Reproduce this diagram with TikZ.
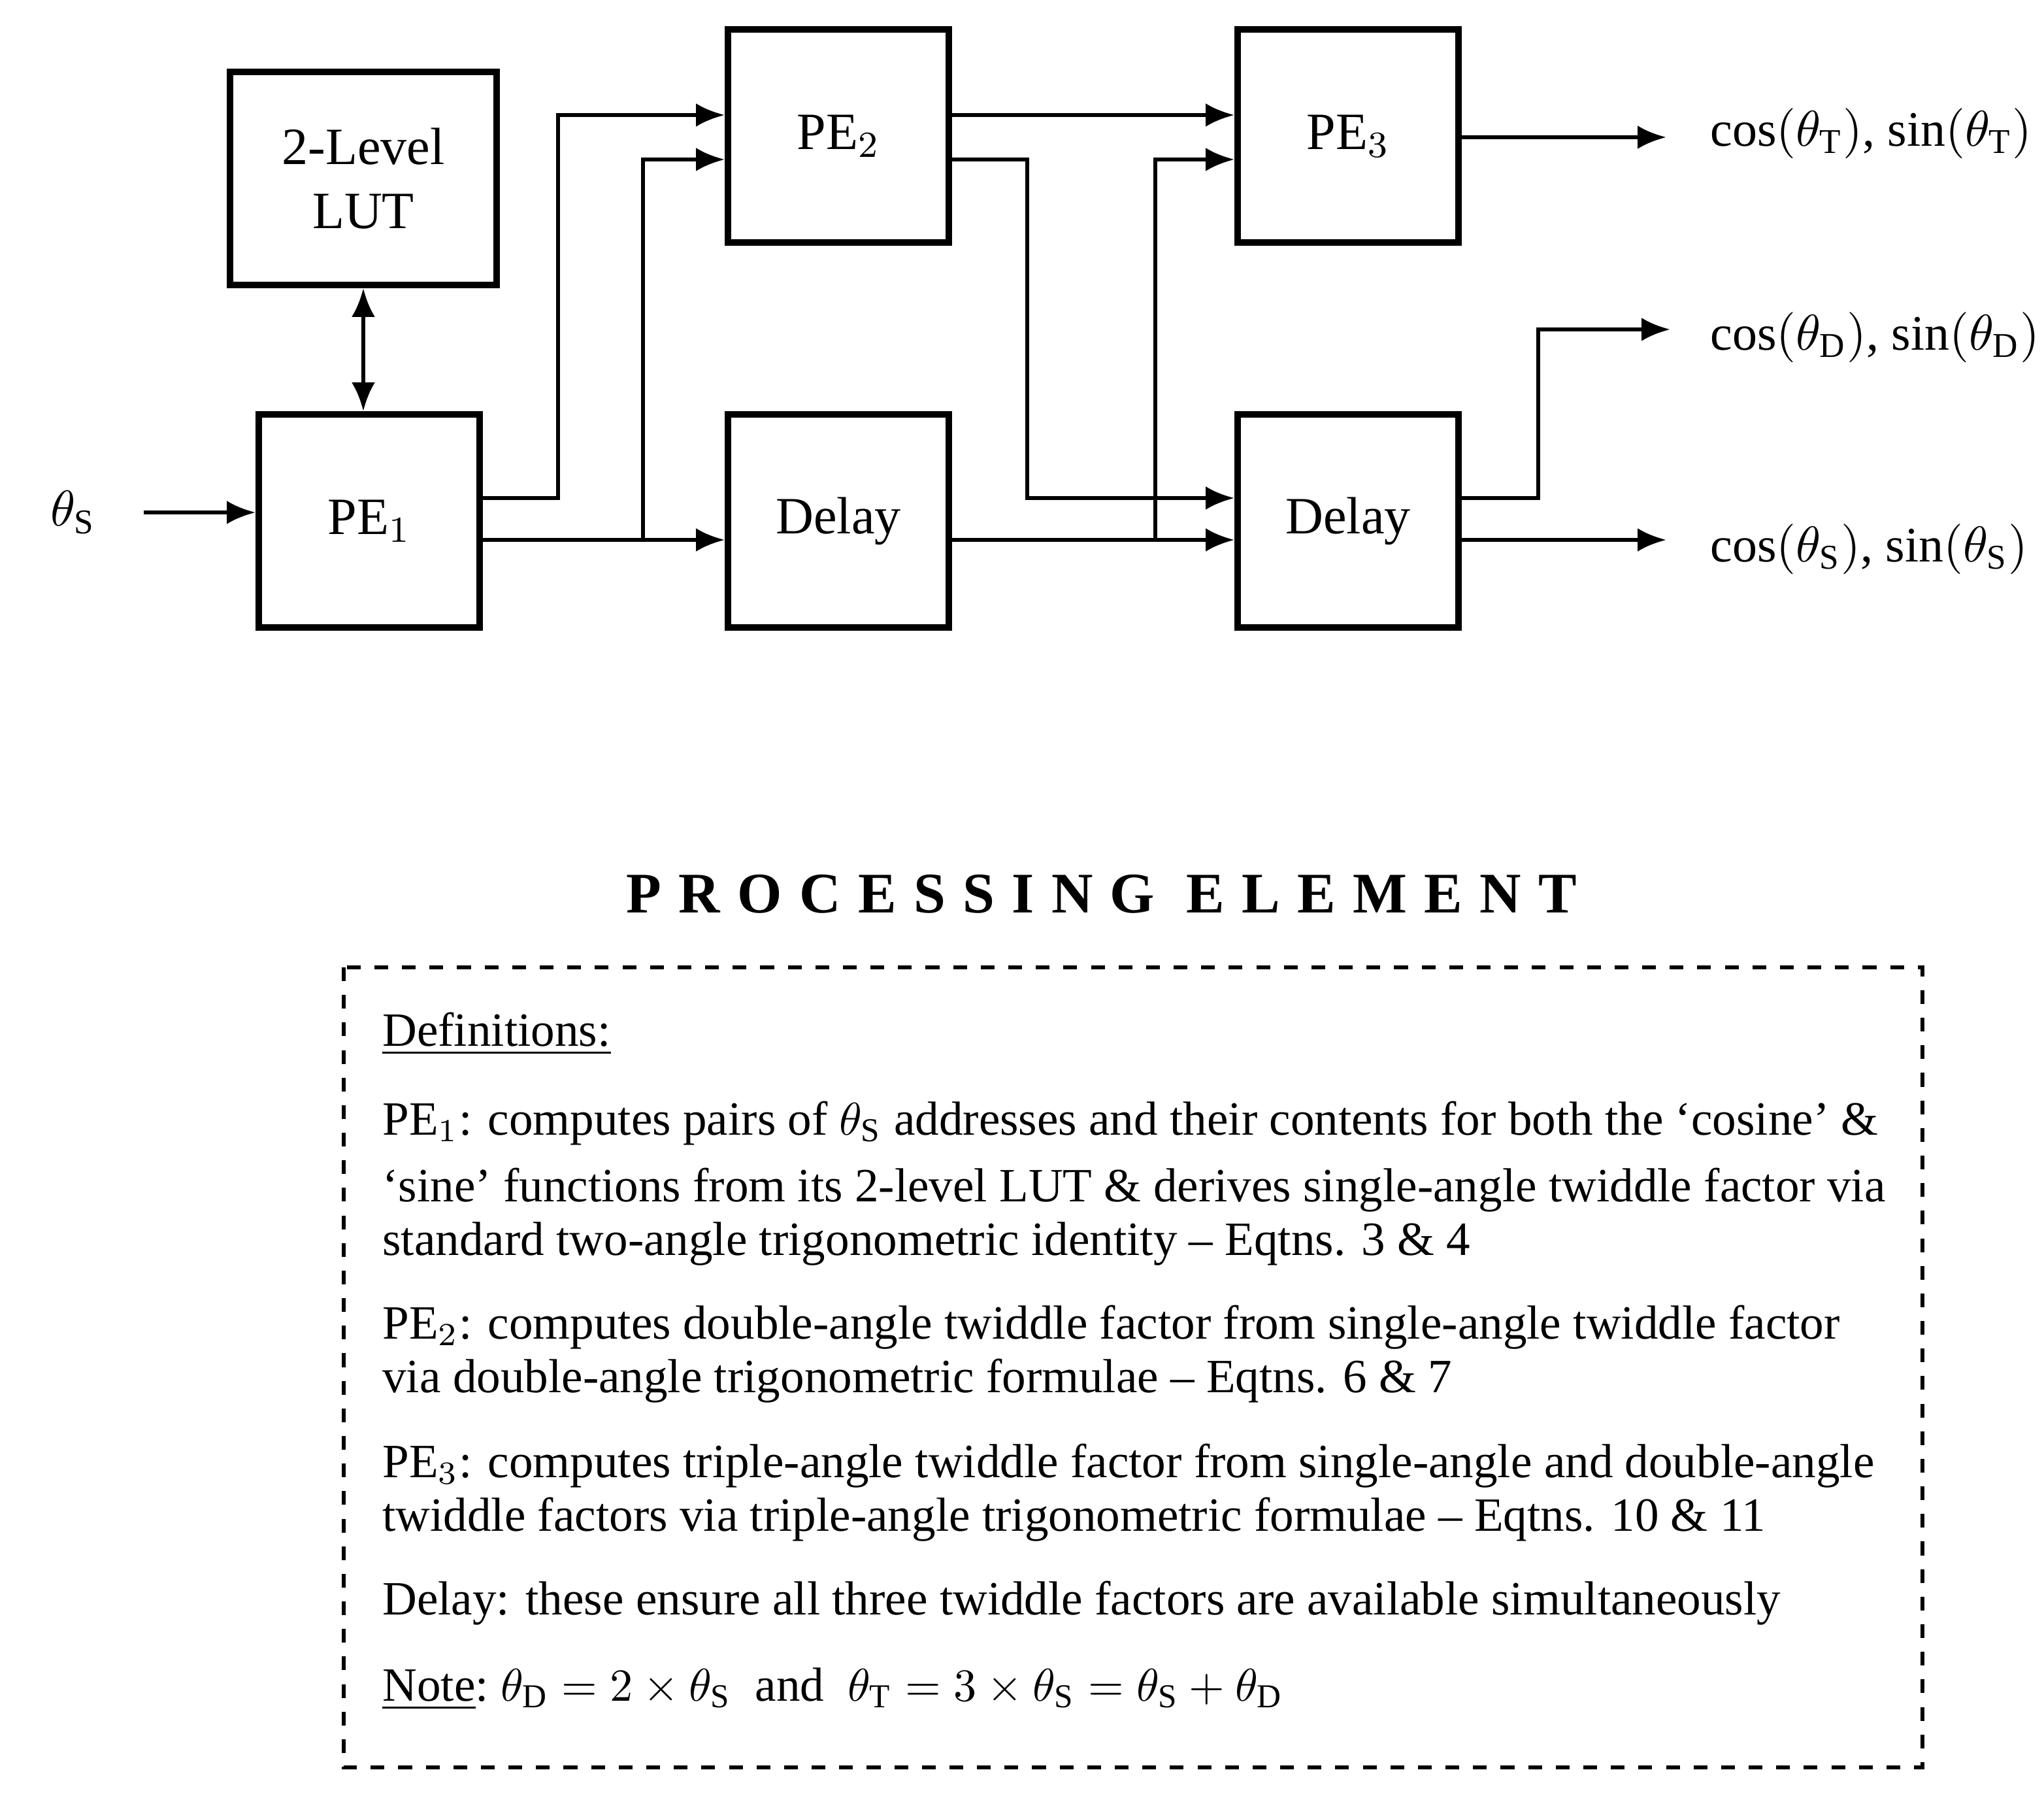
\documentclass[tikz,border=0pt]{standalone}
\usepackage{fontspec}
\setmainfont{Liberation Serif}
\usetikzlibrary{arrows.meta,positioning}
\tikzset{
  blk/.style={draw, line width=1.4pt, minimum width=1.69cm, minimum height=1.63cm, inner sep=0pt, font=\fontsize{11.4}{14}\selectfont, align=center},
  sig/.style={-{Latex[length=2.2mm,width=1.8mm]}, line width=0.9pt},
  deftext/.style={anchor=base west, inner sep=0pt, font=\fontsize{10.4}{12}\selectfont},
  outtext/.style={anchor=west, inner sep=0pt, font=\fontsize{10.8}{13}\selectfont}
}
\begin{document}
\begin{tikzpicture}[y=-1cm]
  \useasboundingbox (0,0) rectangle (15.64,13.80);
  % blocks
  \node[blk, minimum width=2.04cm] (lut) at (2.78,1.365) {2-Level\\LUT};
  \node[blk] (pe1) at (2.825,3.985) {PE$_1$};
  \node[blk] (pe2) at (6.415,1.04) {PE$_2$};
  \node[blk] (del1) at (6.415,3.985) {Delay};
  \node[blk] (pe3) at (10.315,1.04) {PE$_3$};
  \node[blk] (del2) at (10.315,3.985) {Delay};

  % input
  \node[outtext] (ths) at (0.38,3.92) {$\theta_{\mathrm{S}}$};
  \coordinate (in) at (1.1,3.92);
  \draw[sig] (in) -- (pe1.west |- in);
  \draw[{Latex[length=2.2mm,width=1.8mm]}-{Latex[length=2.2mm,width=1.8mm]}, line width=0.9pt] (lut.south) -- (pe1.north -| lut.south);

  % PE1 outputs
  \coordinate (a1) at (3.67,3.81);
  \coordinate (b1) at (3.67,4.13);
  \draw[sig] (a1) -| (4.27,0.88) -- (pe2.west |- 0,0.88);
  \draw[sig] (b1) -- (del1.west |- b1);
  \draw[sig] (4.92,4.13) |- (pe2.west |- 0,1.22);

  % PE2 outputs
  \draw[sig] (pe2.east |- 0,0.88) -- (pe3.west |- 0,0.88);
  \draw[sig] (pe2.east |- 0,1.22) -| (7.86,3.81) -- (del2.west |- 0,3.81);

  % Delay1 output
  \draw[sig] (del1.east |- 0,4.13) -- (del2.west |- 0,4.13);
  \draw[sig] (8.84,4.13) |- (pe3.west |- 0,1.22);

  % outputs
  \coordinate (oT) at (12.75,1.05);
  \coordinate (oD) at (12.78,2.52);
  \coordinate (oS) at (12.75,4.13);
  \draw[sig] (pe3.east |- oT) -- (oT);
  \draw[sig] (del2.east |- 0,3.81) -| (11.77,2.52) -- (oD);
  \draw[sig] (del2.east |- oS) -- (oS);
  \node[outtext] (tT) at (13.08,1.02) {cos$(\theta_{\mathrm{T}})$, sin$(\theta_{\mathrm{T}})$};
  \node[outtext] (tD) at (13.08,2.58) {cos$(\theta_{\mathrm{D}})$, sin$(\theta_{\mathrm{D}})$};
  \node[outtext] (tS) at (13.08,4.20) {cos$(\theta_{\mathrm{S}})$, sin$(\theta_{\mathrm{S}})$};

  % title
  \node[font=\fontsize{12.5}{15}\selectfont\bfseries\addfontfeature{LetterSpace=30}] (title) at (8.43,6.84) {PROCESSING ELEMENT};

  % definitions
  \draw[dashed, line width=0.9pt] (2.63,7.40) rectangle (14.71,13.52);
  \node[deftext] (d0) at (2.92,8.00) {\underline{Definitions:}};
  \node[deftext] (d1) at (2.92,8.68) {PE$_1$: computes pairs of $\theta_{\mathrm{S}}$ addresses and their contents for both the ‘cosine’ \&};
  \node[deftext] (d2) at (2.92,9.19) {‘sine’ functions from its 2-level LUT \& derives single-angle twiddle factor via};
  \node[deftext] (d3) at (2.92,9.60) {standard two-angle trigonometric identity – Eqtns. 3 \& 4};
  \node[deftext] (d4) at (2.92,10.24) {PE$_2$: computes double-angle twiddle factor from single-angle twiddle factor};
  \node[deftext] (d5) at (2.92,10.65) {via double-angle trigonometric formulae – Eqtns. 6 \& 7};
  \node[deftext] (d6) at (2.92,11.30) {PE$_3$: computes triple-angle twiddle factor from single-angle and double-angle};
  \node[deftext] (d7) at (2.92,11.71) {twiddle factors via triple-angle trigonometric formulae – Eqtns. 10 \& 11};
  \node[deftext] (d8) at (2.92,12.35) {Delay: these ensure all three twiddle factors are available simultaneously};
  \node[deftext] (d9) at (2.92,13.01) {\underline{Note}:\ $\theta_{\mathrm{D}} = 2\times\theta_{\mathrm{S}}$\ \ and\ \ $\theta_{\mathrm{T}} = 3\times\theta_{\mathrm{S}} = \theta_{\mathrm{S}} + \theta_{\mathrm{D}}$};
\end{tikzpicture}
\end{document}
